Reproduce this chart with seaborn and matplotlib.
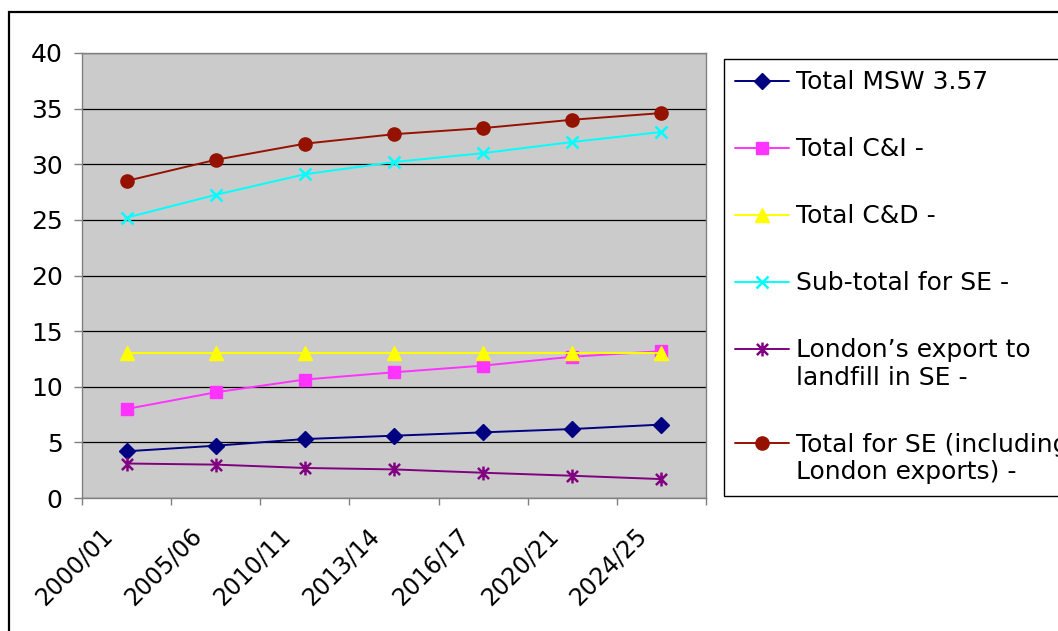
import matplotlib
matplotlib.use("Agg")
import matplotlib.pyplot as plt
from matplotlib.path import Path
from matplotlib.patches import Rectangle
from matplotlib.ticker import FixedLocator
from matplotlib.transforms import ScaledTranslation
import seaborn as sns
import pandas as pd

# ---- data -------------------------------------------------------------
periods = ["2000/01", "2005/06", "2010/11", "2013/14", "2016/17", "2020/21", "2024/25"]

total_msw = [4.2, 4.7, 5.3, 5.6, 5.9, 6.2, 6.6]
total_ci = [8.0, 9.5, 10.65, 11.3, 11.9, 12.7, 13.2]
total_cd = [13.0, 13.0, 13.0, 13.0, 13.0, 13.0, 13.0]
subtotal_se = [25.2, 27.25, 29.1, 30.2, 31.0, 32.0, 32.9]
london_export = [3.1, 3.0, 2.7, 2.57, 2.27, 2.0, 1.7]
total_se = [28.5, 30.4, 31.85, 32.7, 33.25, 34.0, 34.6]

series_names = [
    "Total MSW 3.57",
    "Total C&I -",
    "Total C&D -",
    "Sub-total for SE -",
    "London\u2019s export to\nlandfill in SE -",
    "Total for SE (including\nLondon exports) -",
]
series_values = [total_msw, total_ci, total_cd, subtotal_se, london_export, total_se]

# ---- styling ----------------------------------------------------------
sns.set_theme(style="white", rc={"text.color": "black",
                                 "xtick.color": "black",
                                 "ytick.color": "black"})
plt.rcParams["font.family"] = ["DejaVu Sans"]
FS = 18
XFS = 17

colors = ["#000080", "#FF33FF", "#FFFF00", "#00FFFF", "#800080", "#961200"]
asterisk = Path(
    [(0, -1), (0, 1), (-0.8, -0.8), (0.8, 0.8), (-0.8, 0.8), (0.8, -0.8)],
    [Path.MOVETO, Path.LINETO, Path.MOVETO, Path.LINETO, Path.MOVETO, Path.LINETO],
)
markers = ["D", "s", "^", "x", asterisk, "o"]
msizes = [8.5, 8.5, 10, 9, 10, 9.5]
filled = [True, True, True, False, False, True]

rows = []
for name, vals in zip(series_names, series_values):
    for p, v in zip(periods, vals):
        rows.append({"period": p, "value": v, "series": name})
df = pd.DataFrame(rows)

W, H = 1058, 631
fig = plt.figure(figsize=(W / 100, H / 100), dpi=100)
fig.patch.set_facecolor("white")

# outer chart border (right and bottom edges fall outside the canvas)
fig.add_artist(Rectangle((9 / W, -0.1), 1.2, 1 - 12 / H + 0.1,
                         transform=fig.transFigure, fill=False,
                         edgecolor="black", linewidth=1.6, clip_on=False))

ax = fig.add_axes([82 / W, 1 - 498 / H, (706 - 82) / W, (498 - 53) / H])
ax.set_facecolor("#CBCBCB")

for name, c, m, ms, f in zip(series_names, colors, markers, msizes, filled):
    sub = df[df["series"] == name]
    sns.lineplot(data=sub, x="period", y="value", ax=ax, sort=False,
                 color=c, marker=m, markersize=ms, linewidth=1.4,
                 markeredgecolor=c, markerfacecolor=c if f else "none",
                 markeredgewidth=1.0 if f else 1.8, label=name,
                 zorder=3)

ax.set_xlim(-0.5, len(periods) - 0.5)
ax.set_ylim(0, 40)
ax.set_yticks(range(0, 41, 5))
ax.yaxis.grid(True, color="black", linewidth=0.9)
ax.xaxis.grid(False)
ax.set_axisbelow(True)
ax.set_xlabel("")
ax.set_ylabel("")

for s in ax.spines.values():
    s.set_color("#808080")
    s.set_linewidth(1.0)

ax.set_xticks(range(len(periods)))
ax.xaxis.set_minor_locator(FixedLocator([i - 0.5 for i in range(len(periods) + 1)]))
ax.tick_params(axis="x", which="major", length=0, pad=28, labelsize=XFS)
ax.tick_params(axis="x", which="minor", length=5, width=1, color="#808080",
               direction="out", bottom=True)
ax.tick_params(axis="y", which="major", length=6, width=1, color="#808080",
               direction="out", left=True, pad=8, labelsize=FS,
               labelcolor="black")
ax.set_xticklabels(periods, rotation=45, ha="right", va="baseline",
                   rotation_mode="anchor", fontsize=XFS, color="black")
# nudge the slanted category labels a little to the left
shift = ScaledTranslation(-13 / 100, 0, fig.dpi_scale_trans)
for tick in ax.xaxis.get_major_ticks():
    tick.label1.set_transform(tick.label1.get_transform() + shift)

leg = ax.legend(loc="upper left", bbox_to_anchor=(724 / W, 1 - 59 / H),
                bbox_transform=fig.transFigure, borderaxespad=0,
                frameon=True, fancybox=False, framealpha=1,
                edgecolor="black", fontsize=FS, handlelength=2.15,
                handletextpad=0.3, borderpad=0.45, labelspacing=1.69,
                handleheight=1.15)
leg.get_frame().set_linewidth(1.0)
for t in leg.get_texts():
    t.set_color("black")
# put markers level with the first line of wrapped labels
for col in leg._legend_handle_box.get_children():
    for item in col.get_children():
        item.align = "top"

fig.savefig("out.png", dpi=100, facecolor="white")
